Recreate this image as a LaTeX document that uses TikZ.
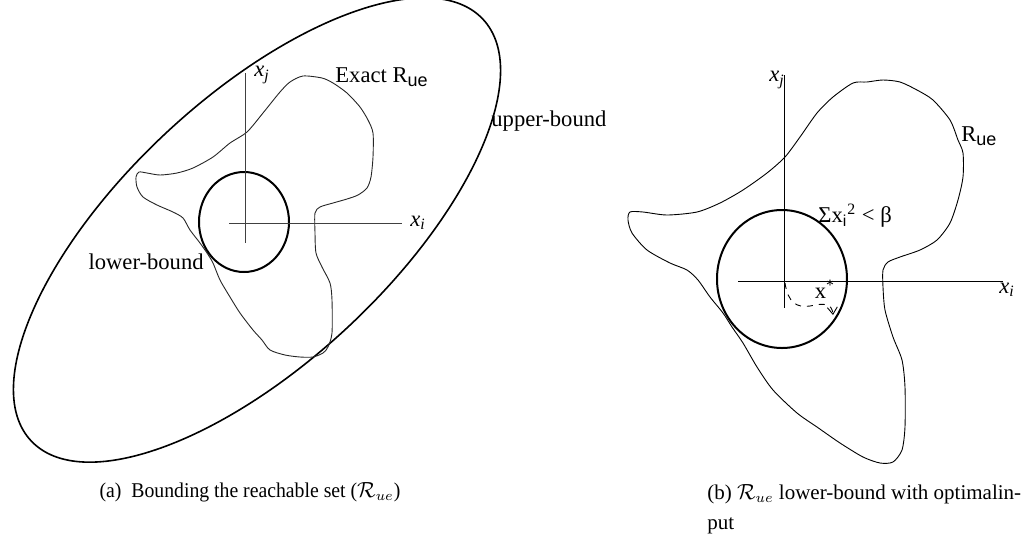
\documentclass[tikz,border=0pt]{standalone}
\usepackage{fontspec}
\setmainfont{Liberation Serif}
\setsansfont{Liberation Sans}
\newfontfamily\capfont[FakeStretch=0.94]{Liberation Serif}
\usepackage{amsmath}
\usepackage{amssymb}
\usetikzlibrary{arrows.meta}

\newcommand{\Rsub}{R\raisebox{-0.35ex}{\sffamily\small ue}}

\begin{document}
\begin{tikzpicture}[x=0.5pt,y=-0.5pt,
  lbl/.style={font=\fontsize{11.3}{13}\selectfont,inner sep=0pt},
  captxt/.style={font=\fontsize{10.5}{15}\selectfont,inner sep=0pt}]
\useasboundingbox (0,0) rectangle (1025,548);
% left panel: upper bound, exact set, lower bound
\path[draw=black,line width=0.8pt,rotate around={43:(257,230)}] (257,230) ellipse [x radius=309,y radius=133];
\path[draw=black!85,line width=0.45pt] plot[smooth cycle,tension=0.45] coordinates {
 (303,76) (322,78) (333,83) (347,93) (360,107) (368,120) (373,133) (373,157)
 (371,177) (367,188) (358,195) (347,199) (333,203) (320,207) (315,213) (315,233)
 (316,253) (322,267) (330,283) (332,300) (332,333) (328,347) (323,353) (313,357)
 (300,357) (285,355) (270,350) (262,340) (253,330) (240,313) (230,297) (220,280)
 (213,263) (207,253) (200,243) (190,230) (183,218) (173,212) (157,205) (143,197)
 (137,187) (136,177) (139,172) (147,173) (160,175) (177,173) (193,168) (213,157)
 (230,143) (247,132) (263,113) (280,92) (290,82)};
\coordinate (o1) at (244,222);
\path[draw=black,line width=1pt] (o1) ellipse [x radius=45,y radius=50];
\coordinate (yt1) at (245,73);
\coordinate (yb1) at (245,243);
\coordinate (xl1) at (229,223);
\coordinate (xr1) at (402,223);
\path[draw=black!75,line width=0.5pt] (yt1) -- (yb1);
\path[draw=black!75,line width=0.5pt] (xl1) -- (xr1);
\node[lbl,anchor=west] (xj1) at (254,75) {\textit{x}\textsubscript{\textit{j}}};
\node[lbl,anchor=west] (xi1) at (410,223) {\textit{x}\textsubscript{\textit{i}}};
\node[lbl,anchor=west] (exact) at (335,77) {Exact \Rsub};
\node[lbl,anchor=west] (upper) at (491,121) {upper-bound};
\node[lbl,anchor=east] (lower) at (204,262) {lower-bound};
% right panel: lower bound with optimal input
\path[draw=black,line width=0.45pt] plot[smooth cycle,tension=0.45] coordinates {
 (853,83) (833,97) (817,113) (800,137) (785,157) (767,173) (743,190) (720,203)
 (697,212) (667,215) (643,212) (630,212) (628,220) (632,233) (647,250) (670,263)
 (687,270) (698,280) (710,297) (723,313) (732,327) (743,343) (757,367) (773,390)
 (797,413) (817,427) (840,443) (863,457) (880,463) (893,462) (902,450) (905,427)
 (905,387) (902,360) (893,337) (885,310) (883,287) (883,270) (888,262) (900,257)
 (920,250) (937,240) (950,223) (958,200) (963,177) (963,153) (958,140) (950,120)
 (933,100) (917,90) (900,82) (883,80) (867,82)};
\coordinate (o2) at (782,279);
\path[draw=black,line width=1pt] (o2) ellipse [x radius=65,y radius=69];
\coordinate (yt2) at (784,75);
\coordinate (yb2) at (784,308);
\coordinate (xl2) at (738,281);
\coordinate (xr2) at (1003,281);
\path[draw=black,line width=0.5pt] (yt2) -- (yb2);
\path[draw=black,line width=0.5pt] (xl2) -- (xr2);
\coordinate (start) at (785,283);
\coordinate (xstar) at (833,315);
\path[draw=black,line width=0.45pt,dashed,-{Straight Barb[length=3.5pt,width=5pt]}] (start) .. controls (788,303) and (797,308) .. (810,306)
  .. controls (824,303) and (832,303) .. (xstar);
\node[lbl,anchor=west] (xj2) at (769,80) {\textit{x}\textsubscript{\textit{j}}};
\node[lbl,anchor=west] (xi2) at (999,290) {\textit{x}\textsubscript{\textit{i}}};
\node[lbl,anchor=west] (rue) at (961,136) {\Rsub};
\node[lbl,anchor=west] (sigma) at (818,216) {Σx\textsubscript{\sffamily i}\textsuperscript{2} < β};
\node[lbl] (xopt) at (825,289) {x\textsuperscript{*}};
% captions
\node[captxt] (capa) at (250,492) {\capfont (a)\ \ Bounding the reachable set ($\mathcal{R}_{ue}$)};
\node[captxt,anchor=north west,align=left] (capb) at (707,484) {(b)\ $\mathcal{R}_{ue}$ lower-bound with optimalin-\\put};
\end{tikzpicture}
\end{document}
